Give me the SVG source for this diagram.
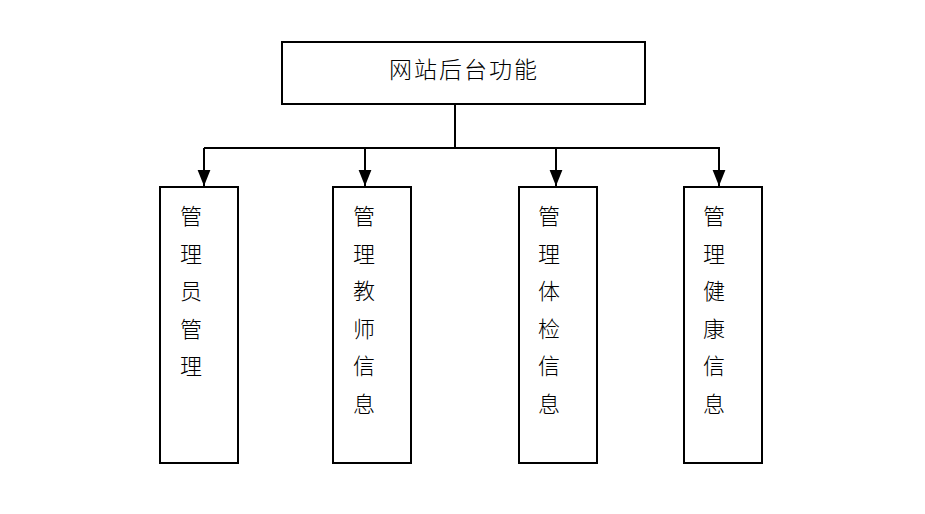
<svg xmlns="http://www.w3.org/2000/svg" width="925" height="514" viewBox="0 0 925 514">
<style>
.box{fill:#fff;stroke:#000;stroke-width:2}
.ln{fill:none;stroke:#000;stroke-width:2}
.t{font-family:"Noto Sans CJK SC","Noto Sans",sans-serif;font-size:22px;font-weight:300;fill:#000;text-anchor:middle}
.tt{font-family:"Noto Sans CJK SC","Noto Sans",sans-serif;font-size:23px;font-weight:300;fill:#000;text-anchor:middle}
</style>
<defs>
<marker id="arr" markerUnits="userSpaceOnUse" markerWidth="16" markerHeight="14" refX="15" refY="6" orient="auto" viewBox="0 0 15 12">
<path d="M0,0 L15,6 L0,12 Z" fill="#000"/>
</marker>
</defs>
<rect width="925" height="514" fill="#fff"/>
<g id="connectors">
<path class="ln" d="M455,104 V148"/>
<path class="ln" d="M204,148 H720"/>
<path class="ln" d="M204,148 V186" marker-end="url(#arr)"/>
<path class="ln" d="M365,148 V186" marker-end="url(#arr)"/>
<path class="ln" d="M556,148 V186" marker-end="url(#arr)"/>
<path class="ln" d="M719,148 V186" marker-end="url(#arr)"/>
</g>
<g id="root">
<rect class="box" x="282" y="42" width="363" height="62"/>
<text class="tt" x="464" y="78" letter-spacing="2">网站后台功能</text>
</g>
<g id="n1">
<rect class="box" x="160" y="187" width="78" height="276"/>
<text class="t" x="191" y="224">管</text>
<text class="t" x="191" y="261.5">理</text>
<text class="t" x="191" y="299">员</text>
<text class="t" x="191" y="336.5">管</text>
<text class="t" x="191" y="374">理</text>
</g>
<g id="n2">
<rect class="box" x="333" y="187" width="78" height="276"/>
<text class="t" x="364" y="224">管</text>
<text class="t" x="364" y="261.5">理</text>
<text class="t" x="364" y="299">教</text>
<text class="t" x="364" y="336.5">师</text>
<text class="t" x="364" y="374">信</text>
<text class="t" x="364" y="411.5">息</text>
</g>
<g id="n3">
<rect class="box" x="519" y="187" width="78" height="276"/>
<text class="t" x="549" y="224">管</text>
<text class="t" x="549" y="261.5">理</text>
<text class="t" x="549" y="299">体</text>
<text class="t" x="549" y="336.5">检</text>
<text class="t" x="549" y="374">信</text>
<text class="t" x="549" y="411.5">息</text>
</g>
<g id="n4">
<rect class="box" x="684" y="187" width="78" height="276"/>
<text class="t" x="714" y="224">管</text>
<text class="t" x="714" y="261.5">理</text>
<text class="t" x="714" y="299">健</text>
<text class="t" x="714" y="336.5">康</text>
<text class="t" x="714" y="374">信</text>
<text class="t" x="714" y="411.5">息</text>
</g>
</svg>
